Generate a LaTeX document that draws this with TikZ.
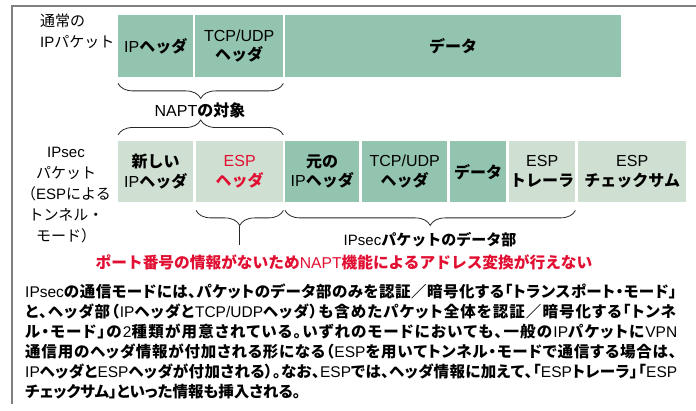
\documentclass[tikz,border=0pt]{standalone}
\usepackage{fontspec}
\setmainfont{Liberation Sans}
\newfontfamily\jp{Noto Sans CJK JP}
\newfontfamily\jpp{Noto Sans CJK JP}[RawFeature=+palt]
\usetikzlibrary{decorations.pathreplacing,calc}
\definecolor{dkgreen}{RGB}{147,196,175}
\definecolor{ltgreen}{RGB}{207,224,210}
\definecolor{warnred}{RGB}{225,15,50}
\definecolor{framegray}{RGB}{128,128,128}
\newcommand\J[1]{{\jp\bfseries #1}}
\newcommand\JR[1]{{\jp #1}}
\def\spcloop#1{\ifx\relax#1\else#1\hskip 0pt plus 1pt minus 1pt\expandafter\spcloop\fi}
\newcommand\PJ[1]{{\jpp\bfseries\spcloop#1\relax}}
\newcommand\spreadline[1]{\makebox[652pt][s]{#1}}
\begin{document}
\begin{tikzpicture}[x=1pt,y=-1pt,
  pkt/.style={anchor=north west, inner sep=0pt, align=center, font=\fontsize{16}{19.5}\selectfont},
  dk/.style={pkt, fill=dkgreen},
  lt/.style={pkt, fill=ltgreen},
  brc/.style={decorate, decoration={brace, amplitude=15pt}, line width=0.8pt, draw=black!85},
  lbl/.style={inner sep=0pt, font=\fontsize{15}{20.5}\selectfont},
  para/.style={anchor=west, inner sep=0pt, font=\fontsize{15.5}{18}\selectfont}
]
\useasboundingbox (0,0) rectangle (696,411);
\draw[framegray, line width=2pt] (12,404) -- (12,6) -- (696,6);

% row 1
\node[dk, minimum width=75pt, minimum height=62pt] (a1) at (118,15) {IP\J{ヘッダ}};
\node[dk, minimum width=88pt, minimum height=62pt] (a2) at (195,15) {TCP/UDP\\\J{ヘッダ}};
\node[dk, minimum width=336pt, minimum height=62pt] (a3) at (285,15) {\J{データ}};

% row 2
\node[lt, minimum width=75pt, minimum height=61pt] (b1) at (118,141) {\J{新しい}\\IP\J{ヘッダ}};
\node[lt, minimum width=87pt, minimum height=61pt, text=warnred] (b2) at (196,141) {ESP\\\J{ヘッダ}};
\node[dk, minimum width=74pt, minimum height=61pt] (b3) at (285,141) {\J{元の}\\IP\J{ヘッダ}};
\node[dk, minimum width=85pt, minimum height=61pt] (b4) at (362,141) {TCP/UDP\\\J{ヘッダ}};
\node[dk, minimum width=56pt, minimum height=61pt] (b5) at (450,141) {\J{データ}};
\node[lt, minimum width=66pt, minimum height=61pt] (b6) at (509,141) {ESP\\\J{トレーラ}};
\node[lt, minimum width=108pt, minimum height=61pt] (b7) at (578,141) {ESP\\\J{チェックサム}};

% left labels
\node[lbl, anchor=north west, align=left] (l1) at (40,14) {\JR{通常の}\\IP\JR{パケット}};
\node[lbl, align=center, font=\fontsize{15}{21}\selectfont] (l2) at (66,195) {IPsec\\\JR{パケット}\\\JR{（}ESP\JR{による}\\\JR{トンネル・}\\\JR{モード）}};

% braces
\draw[brc] ([yshift=-6pt]a2.south east) -- ([yshift=-6pt]a1.south west);
\node[lbl, font=\fontsize{16}{19}\selectfont] (napt) at (200,110) {NAPT\J{の対象}};
\draw[brc] ([yshift=6pt]b1.north west) -- ([yshift=6pt]b2.north east);
\draw[brc] ([yshift=-8pt]b2.south east) -- ([yshift=-8pt]b2.south west);
\draw[brc] ([yshift=-8pt]b6.south east) -- ([yshift=-8pt]b3.south west);
\coordinate (t3) at ($(b2.south)+(0,24)$);
\coordinate (t3end) at ($(t3)+(0,19)$);
\node[lbl] (data) at (430,240) {IPsec\J{パケットのデータ部}};
\node[lbl, text=warnred, font=\fontsize{15.7}{20}\selectfont] (warn) at (344,262) {\J{ポート番号の情報がないため}NAPT\J{機能によるアドレス変換が行えない}};
\draw[line width=0.8pt, draw=black!85] (t3) -- (t3end);

% paragraph
\node[para] (p1) at (25,292) {\spreadline{IPsec\PJ{の通信モードには、パケットのデータ部のみを認証／暗号化する「トランスポート・モード」}}};
\node[para] (p2) at (25,312) {\spreadline{\PJ{と、ヘッダ部（}IP\PJ{ヘッダと}TCP/UDP\PJ{ヘッダ）も含めたパケット全体を認証／暗号化する「トンネ}}};
\node[para] (p3) at (25,332) {\spreadline{\PJ{ル・モード」の}2\PJ{種類が用意されている。いずれのモードにおいても、一般の}IP\PJ{パケットに}VPN}};
\node[para] (p4) at (25,352) {\spreadline{\PJ{通信用のヘッダ情報が付加される形になる（}ESP\PJ{を用いてトンネル・モードで通信する場合は、}}};
\node[para] (p5) at (25,372) {\spreadline{IP\PJ{ヘッダと}ESP\PJ{ヘッダが付加される）。なお、}ESP\PJ{では、ヘッダ情報に加えて、「}ESP\PJ{トレーラ」「}ESP}};
\node[para] (p6) at (25,392) {{\jpp\bfseries チェックサム」といった情報も挿入される。}};
\end{tikzpicture}
\end{document}
